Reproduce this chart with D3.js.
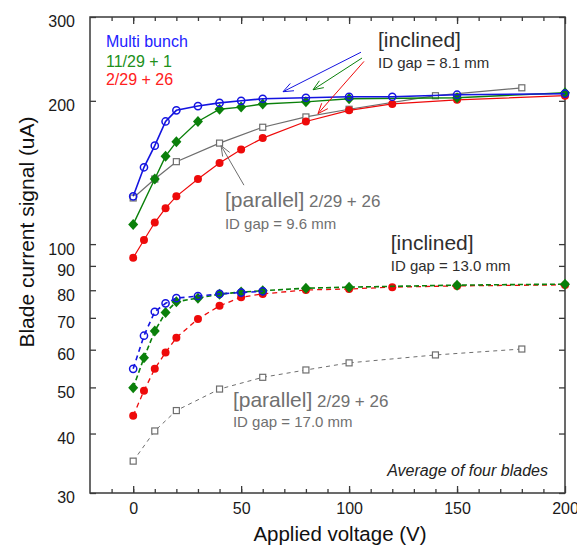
<!DOCTYPE html>
<html><head><meta charset="utf-8">
<script src="https://cdn.jsdelivr.net/npm/d3@7"></script>
<style>body{margin:0;background:#fff;font-family:Arial,"Liberation Sans",sans-serif}</style>
</head><body><svg id="c" width="577" height="548"></svg>
<script>
// ---- data ----
const upBlueX = [0,5,10,15,20,30,40,50,60,80,100,120,150,200];
const upBlueY = [126,145,161,181,191,195,198,200,202,203,204,204,206,207];
const upGreenX = [0,10,15,20,30,40,50,60,80,100,150,200];
const upGreenY = [110,137,153,164,181,192,194,197,199,202,203,208];
const upRedX = [0,5,10,15,20,30,40,50,60,80,100,120,150,200];
const upRedY = [93.6,102,111,119,126,137,148,158,167,181,191,197,201,205];
const upGrayX = [0,10,20,40,60,80,100,140,180];
const upGrayY = [125,137,149,163,176,185,192,205,213];

const loBlueX = [0,5,10,15,20,30,40,50,60];
const loBlueY = [54.7,64.2,72.1,75.1,77,77.8,78.6,79.1,79.6];
const loGreenX = [0,5,10,15,20,30,40,50,60,80,100,150,200];
const loGreenY = [49.9,57.7,65.7,71.8,75.7,77,78.5,79.3,79.8,80.8,81.2,82,82.4];
const loRedX = [0,5,10,15,20,30,40,50,60,80,100,120,150,200];
const loRedY = [43.6,49.2,54.7,59.2,63.6,69.6,74.2,77.3,78.6,80.1,80.5,81.2,81.7,82.1];
const loGrayX = [0,10,20,40,60,80,100,140,180];
const loGrayY = [35.0,40.5,44.7,49.6,52.5,54.4,56.3,58.5,60.2];

const xMajor = [0,50,100,150,200];
const xMinor = d3.range(-10,200,10);
const yTicks = [30,40,50,60,70,80,90,100,200,300];

const legendLabels = ["Multi bunch","11/29 + 1","2/29 + 26"];

// ---- setup ----
const svg = d3.select("#c");
const L=90,R=565,T=17,B=493;
const x = d3.scaleLinear().domain([-20,200]).range([L,R]);
const y = d3.scaleLog().domain([30,300]).range([B,T]);
const C = {blue:"#1414e0", green:"#0a800a", red:"#ee0a0a", gray:"#6e6e6e"};
const axisCol = "#3a3a3a";

// axes
function styleAx(g){g.select(".domain").remove();g.selectAll("line").attr("stroke",axisCol).attr("stroke-width",1.3);}
svg.append("g").attr("transform",`translate(0,${B})`)
  .call(d3.axisBottom(x).tickValues(xMinor).tickSize(-4).tickFormat(""))
  .call(styleAx);
svg.append("g").attr("transform",`translate(0,${B})`)
  .call(d3.axisBottom(x).tickValues(xMajor).tickSize(-7).tickPadding(10).tickFormat(d3.format("d")))
  .call(styleAx)
  .selectAll("text").attr("font-size",16).attr("fill","#1a1a1a").attr("font-family","Arial,'Liberation Sans',sans-serif");
svg.append("g").attr("transform",`translate(0,${T})`)
  .call(d3.axisTop(x).tickValues(xMinor).tickSize(-4).tickFormat("")).call(styleAx);
svg.append("g").attr("transform",`translate(0,${T})`)
  .call(d3.axisTop(x).tickValues(xMajor).tickSize(-7).tickFormat("")).call(styleAx);
svg.append("g").attr("transform",`translate(${L},0)`)
  .call(d3.axisLeft(y).tickValues(yTicks).tickSize(-6).tickPadding(15).tickFormat(d3.format("d")))
  .call(styleAx)
  .selectAll("text").attr("font-size",16).attr("fill","#1a1a1a").attr("dy","0.62em").attr("font-family","Arial,'Liberation Sans',sans-serif");
svg.append("g").attr("transform",`translate(${R},0)`)
  .call(d3.axisRight(y).tickValues(yTicks).tickSize(-6).tickFormat("")).call(styleAx);
svg.append("rect").attr("x",L).attr("y",T).attr("width",R-L).attr("height",B-T)
  .attr("fill","none").attr("stroke",axisCol).attr("stroke-width",1.5);

// axis titles
svg.append("text").attr("x",340).attr("y",541).attr("text-anchor","middle")
  .attr("font-size",20.5).attr("fill","#111").text("Applied voltage (V)");
svg.append("text").attr("transform","translate(34,232) rotate(-90)").attr("text-anchor","middle")
  .attr("font-size",21).attr("fill","#111").text("Blade current signal (uA)");

// series
const line = d3.line().x(d=>x(d[0])).y(d=>y(d[1]));
const zip=(a,b)=>a.map((v,i)=>[v,b[i]]);
const series = [
  {xs:loGrayX,ys:loGrayY,c:C.gray,m:"sq",dash:"4,4",w:1},
  {xs:loRedX,ys:loRedY,c:C.red,m:"dot",dash:"5,4",w:1.3},
  {xs:loGreenX,ys:loGreenY,c:C.green,m:"dia",dash:"5,3",w:1.6},
  {xs:loBlueX,ys:loBlueY,c:C.blue,m:"circ",dash:"5,4",w:1.6},
  {xs:upGrayX,ys:upGrayY,c:C.gray,m:"sq",dash:null,w:1.2},
  {xs:upRedX,ys:upRedY,c:C.red,m:"dot",dash:null,w:1.2},
  {xs:upGreenX,ys:upGreenY,c:C.green,m:"dia",dash:null,w:1.4},
  {xs:upBlueX,ys:upBlueY,c:C.blue,m:"circ",dash:null,w:1.6},
];
series.forEach(s=>{
  const pts=zip(s.xs,s.ys);
  svg.append("path").datum(pts).attr("d",line).attr("fill","none")
    .attr("stroke",s.c).attr("stroke-width",s.w).attr("stroke-dasharray",s.dash);
  const g=svg.append("g");
  pts.forEach(p=>{
    const px=x(p[0]),py=y(p[1]);
    if(s.m==="circ") g.append("circle").attr("cx",px).attr("cy",py).attr("r",3.6).attr("fill","none").attr("stroke",s.c).attr("stroke-width",1.5);
    else if(s.m==="dot") g.append("circle").attr("cx",px).attr("cy",py).attr("r",4).attr("fill",s.c);
    else if(s.m==="dia") g.append("path").attr("transform",`translate(${px},${py})`).attr("d","M0,-5.5L5,0L0,5.5L-5,0Z").attr("fill",s.c);
    else g.append("rect").attr("x",px-3).attr("y",py-3).attr("width",6).attr("height",6).attr("fill","#fff").attr("stroke",s.c).attr("stroke-width",1.2);
  });
});

// arrows (data coords)
const arrows = [
  {from:[105.5,253],to:[69.4,209],c:C.blue},
  {from:[106,246],to:[83.3,211],c:C.green},
  {from:[106.9,242],to:[85.6,188],c:C.red},
  {from:[51.3,133],to:[40.7,161],c:C.gray},
];
arrows.forEach(a=>{
  const x1=x(a.from[0]),y1=y(a.from[1]),x2=x(a.to[0]),y2=y(a.to[1]);
  svg.append("line").attr("x1",x1).attr("y1",y1).attr("x2",x2).attr("y2",y2).attr("stroke",a.c).attr("stroke-width",1);
  const ang=Math.atan2(y1-y2,x1-x2), hl=11, ha=0.38;
  [ang-ha,ang+ha].forEach(t=>{
    svg.append("line").attr("x1",x2).attr("y1",y2).attr("x2",x2+hl*Math.cos(t)).attr("y2",y2+hl*Math.sin(t)).attr("stroke",a.c).attr("stroke-width",1);
  });
});

// legend
const legY=[259,236,216];
legendLabels.forEach((t,i)=>{
  svg.append("text").attr("x",x(-12.6)).attr("y",y(legY[i])).attr("font-size",16)
    .attr("fill",[ "#2222ff","#20901a","#ff2020"][i]).text(t);
});

// annotations
function ann(xd,yd,parts,col){
  const t=svg.append("text").attr("x",x(xd)).attr("y",y(yd)).attr("fill",col);
  parts.forEach(p=>t.append("tspan").attr("font-size",p[1]).text(p[0]));
}
ann(113.4,259,[["[inclined]",21]],"#2e2e2e");
ann(113.4,234,[["ID gap = 8.1 mm",15]],"#2e2e2e");
ann(42.5,119.8,[["[parallel]",21],[" 2/29 + 26",17]],"#707070");
ann(42.5,107.8,[["ID gap = 9.6 mm",15]],"#707070");
ann(119.3,97.3,[["[inclined]",21]],"#2e2e2e");
ann(119.3,87.9,[["ID gap = 13.0 mm",15]],"#2e2e2e");
ann(46.2,45.5,[["[parallel]",21],[" 2/29 + 26",17]],"#707070");
ann(46.2,41.3,[["ID gap = 17.0 mm",15]],"#707070");
svg.append("text").attr("x",x(192.1)).attr("y",y(32.5)).attr("text-anchor","end")
  .attr("font-size",16).attr("font-style","italic").attr("fill","#222").text("Average of four blades");
</script></body></html>
